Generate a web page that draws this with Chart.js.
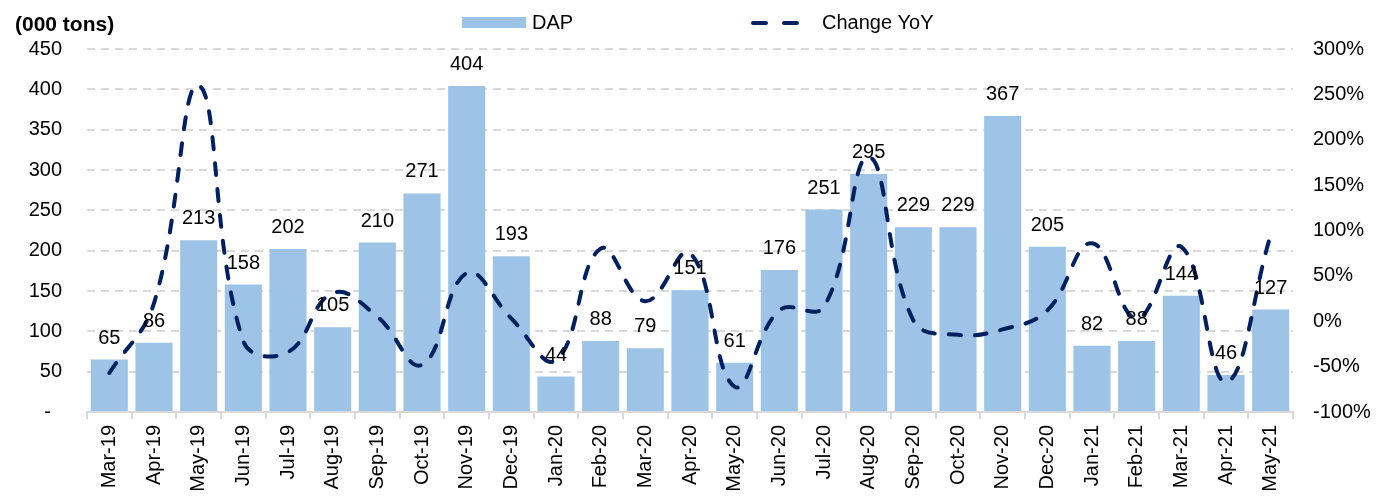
<!DOCTYPE html>
<html>
<head>
<meta charset="utf-8">
<script src="https://cdn.jsdelivr.net/npm/chart.js@4"></script>
<style>
  html, body { margin: 0; padding: 0; background: #fff; }
  #wrap { width: 1378px; height: 498px; }
</style>
</head>
<body>
<div id="wrap"><canvas id="dapChart"></canvas></div>
<script>
'use strict';

// monthly DAP volumes (000 tons) and yoy change (%)
var months = ['Mar-19', 'Apr-19', 'May-19', 'Jun-19', 'Jul-19', 'Aug-19', 'Sep-19', 'Oct-19', 'Nov-19',
  'Dec-19', 'Jan-20', 'Feb-20', 'Mar-20', 'Apr-20', 'May-20', 'Jun-20', 'Jul-20', 'Aug-20', 'Sep-20',
  'Oct-20', 'Nov-20', 'Dec-20', 'Jan-21', 'Feb-21', 'Mar-21', 'Apr-21', 'May-21'];
var dapVolume = [65, 86, 213, 158, 202, 105, 210, 271, 404, 193, 44, 88, 79, 151, 61, 176, 251, 295,
  229, 229, 367, 205, 82, 88, 144, 46, 127];
var changeYoY = [-57, 20, 260, -22, -34, 31, 5, -48, 53, 3, -43, 80, 22, 75, -72, 12, 16, 181,
  1, -15, -9, 12, 86, 3, 82, -67, 95];
var leftTicks = { min: 0, max: 450, step: 50 };
var rightTicks = { min: -100, max: 300, step: 50 };

var FONT = '"Liberation Sans", Arial, sans-serif';
var barColor = '#9DC3E6';
var lineColor = '#002060';
var gridColor = '#D9D9D9';

// value labels above the bars
var barLabels = {
  id: 'barLabels',
  afterDatasetsDraw: function(chart) {
    var ctx = chart.ctx;
    var meta = chart.getDatasetMeta(0);
    ctx.save();
    ctx.font = '20px ' + FONT;
    ctx.fillStyle = '#000';
    ctx.textAlign = 'center';
    ctx.textBaseline = 'alphabetic';
    meta.data.forEach(function(bar, i) {
      ctx.fillText(String(dapVolume[i]), bar.x, bar.y - 16);
    });
    ctx.restore();
  }
};

// unit title and legend on top
var topText = {
  id: 'topText',
  afterDraw: function(chart) {
    var ctx = chart.ctx;
    ctx.save();
    ctx.fillStyle = '#000';
    ctx.textBaseline = 'middle';
    ctx.textAlign = 'left';
    ctx.font = 'bold 21px ' + FONT;
    ctx.fillText('(000 tons)', 15, 25);

    ctx.fillStyle = barColor;
    ctx.fillRect(462, 17, 64, 11);
    ctx.fillStyle = '#000';
    ctx.font = '20px ' + FONT;
    ctx.fillText('DAP', 532, 23);

    ctx.strokeStyle = lineColor;
    ctx.lineWidth = 4;
    ctx.lineCap = 'round';
    ctx.setLineDash([13, 18]);
    ctx.beginPath();
    ctx.moveTo(753, 23);
    ctx.lineTo(799, 23);
    ctx.stroke();
    ctx.setLineDash([]);
    ctx.fillText('Change YoY', 822, 23);
    ctx.restore();
  }
};

var ctx = document.getElementById('dapChart').getContext('2d');
new Chart(ctx, {
  data: {
    labels: months,
    datasets: [{
      type: 'bar',
      label: 'DAP',
      data: dapVolume,
      backgroundColor: barColor,
      borderWidth: 0,
      categoryPercentage: 1,
      barPercentage: 0.83,
      yAxisID: 'y',
      order: 2
    }, {
      type: 'line',
      label: 'Change YoY',
      data: changeYoY,
      borderColor: lineColor,
      borderWidth: 4,
      borderDash: [12, 14],
      borderCapStyle: 'round',
      pointRadius: 0,
      tension: 0.42,
      fill: false,
      yAxisID: 'y1',
      order: 1
    }]
  },
  options: {
    responsive: true,
    maintainAspectRatio: false,
    animation: false,
    layout: { padding: { top: 49, left: 0, right: 0, bottom: 0 } },
    plugins: {
      legend: { display: false },
      tooltip: { enabled: false }
    },
    scales: {
      x: {
        offset: true,
        grid: {
          offset: true,
          drawOnChartArea: false,
          color: gridColor,
          lineWidth: 2,
          tickLength: 7
        },
        border: { display: true, color: gridColor, width: 2 },
        ticks: {
          autoSkip: false,
          minRotation: 90,
          maxRotation: 90,
          padding: 6,
          color: '#000',
          font: { family: FONT, size: 20 }
        },
        afterFit: function(scale) { scale.height = 86; }
      },
      y: {
        position: 'left',
        min: leftTicks.min,
        max: leftTicks.max,
        grid: {
          drawTicks: false,
          color: function(c) { return c.tick.value === 0 ? 'rgba(0,0,0,0)' : gridColor; },
          lineWidth: 2,
          borderDash: [8, 6]
        },
        border: { display: false, dash: [8, 6] },
        ticks: {
          stepSize: leftTicks.step,
          padding: 25,
          color: '#000',
          font: { family: FONT, size: 20 },
          callback: function(v) { return v === 0 ? '-  ' : v; }
        },
        afterFit: function(scale) { scale.width = 87; }
      },
      y1: {
        position: 'right',
        min: rightTicks.min,
        max: rightTicks.max,
        grid: { display: false, drawTicks: false },
        border: { display: false },
        ticks: {
          stepSize: rightTicks.step,
          padding: 20,
          color: '#000',
          font: { family: FONT, size: 20 },
          callback: function(v) { return v + '%'; }
        },
        afterFit: function(scale) { scale.width = 85; }
      }
    }
  },
  plugins: [barLabels, topText]
});
</script>
</body>
</html>
